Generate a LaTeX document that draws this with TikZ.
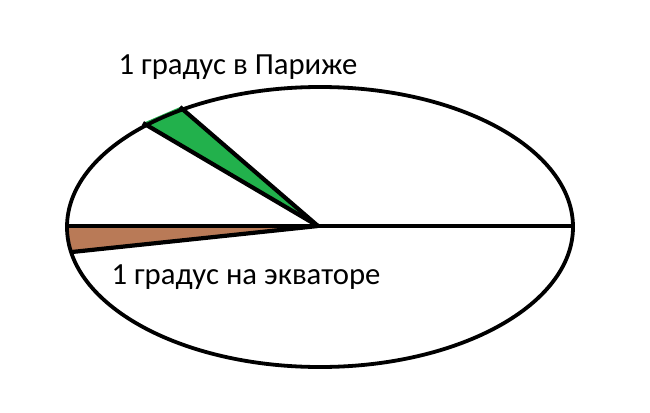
\documentclass[tikz,border=0pt]{standalone}
\usepackage{fontspec}
\setmainfont{Carlito}
\definecolor{paintgreen}{RGB}{34,177,76}
\definecolor{paintbrown}{RGB}{185,122,87}
\tikzset{
  outline/.style={line width=4.2pt, line join=round},
  label/.style={font=\fontsize{30.7}{34}\selectfont, text=black, inner sep=0pt}
}
\begin{document}
\begin{tikzpicture}[x=1pt,y=-1pt]
\useasboundingbox (0,0) rectangle (650,412);
\coordinate (hub) at (318,226);
\coordinate (L) at (67,226);
\coordinate (R) at (573,226);
\coordinate (g1) at (143,123);
\coordinate (g2) at (180,107);
\coordinate (b1) at (72,252);
% wedges
\fill[paintgreen] (hub) -- (g1) -- (g2) -- cycle;
\fill[paintbrown] (hub) -- (L) -- (b1) -- cycle;
\draw[outline] (hub) -- (g1);
\draw[outline] (hub) -- (g2);
\draw[outline] (hub) -- (b1);
\draw[outline] (L) -- (R);
% ellipse
\draw[line width=3.8pt] (320,227) ellipse [x radius=253, y radius=140];
% labels
\node[label] (paris) at (238,67) {1 градус в Париже};
\node[label] (equator) at (246,277) {1 градус на экваторе};
\end{tikzpicture}
\end{document}
